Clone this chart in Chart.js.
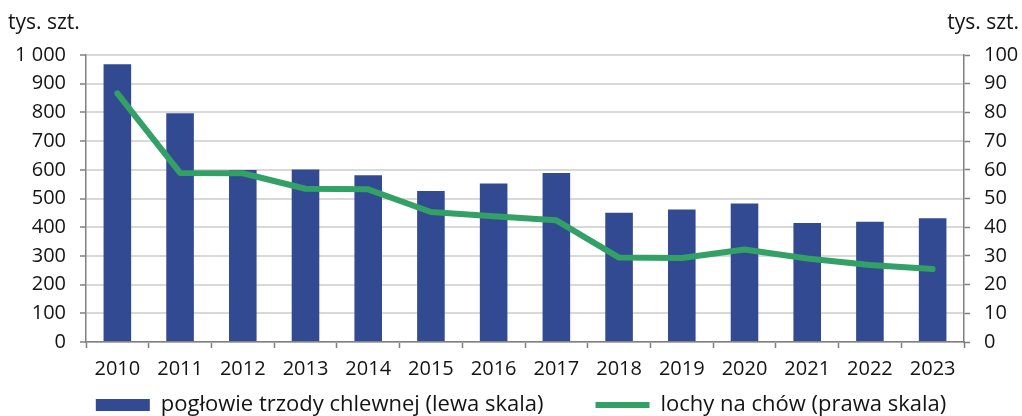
<!DOCTYPE html>
<html><head><meta charset="utf-8">
<script src="https://cdn.jsdelivr.net/npm/chart.js@4.4.1/dist/chart.umd.min.js"></script>
<style>html,body{margin:0;padding:0;background:#fff}#wrap{width:1022px;height:416px;position:relative}</style>
</head><body><div id="wrap"><canvas id="c" width="1022" height="416"></canvas></div>
<script>
const categories = ['2010','2011','2012','2013','2014','2015','2016','2017','2018','2019','2020','2021','2022','2023'];
const pigHerd = [968, 797, 599, 601, 581, 526, 552, 589, 450, 462, 483, 415, 419, 431];
const sows = [86.6, 58.9, 58.8, 53.4, 53.2, 45.3, 43.8, 42.4, 29.4, 29.3, 32.2, 29.1, 26.8, 25.4];
const leftTickLabels = ['0','100','200','300','400','500','600','700','800','900','1 000'];
const rightTickLabels = ['0','10','20','30','40','50','60','70','80','90','100'];
const seriesNames = ['pogłowie trzody chlewnej (lewa skala)', 'lochy na chów (prawa skala)'];
const unitLeft = 'tys. szt.';
const unitRight = 'tys. szt.';

const FONT = '"Open Sans", "Noto Sans", sans-serif';
const AXIS_GRAY = '#808080';
const TEXT = '#141414';

const unitPlugin = {
  id: 'units',
  afterDraw(chart) {
    const ctx = chart.ctx;
    ctx.save();
    ctx.font = '21px ' + FONT;
    ctx.fillStyle = TEXT;
    ctx.textBaseline = 'alphabetic';
    ctx.textAlign = 'left';
    ctx.fillText(unitLeft, 8, 29);
    ctx.textAlign = 'right';
    ctx.fillText(unitRight, 1019, 29);
    ctx.restore();
  }
};

new Chart(document.getElementById('c'), {
  type: 'bar',
  data: {
    labels: categories,
    datasets: [
      {
        type: 'bar',
        label: seriesNames[0],
        data: pigHerd,
        backgroundColor: '#324A92',
        borderWidth: 0,
        yAxisID: 'y',
        order: 1,
        categoryPercentage: 1.0,
        barPercentage: 0.44,
        pointStyle: 'rect'
      },
      {
        type: 'line',
        label: seriesNames[1],
        data: sows,
        borderColor: '#33A066',
        backgroundColor: '#33A066',
        borderWidth: 6,
        borderCapStyle: 'round',
        borderJoinStyle: 'round',
        pointRadius: 0,
        tension: 0,
        yAxisID: 'y1',
        order: 0,
        pointStyle: 'line'
      }
    ]
  },
  options: {
    responsive: false,
    animation: false,
    layout: { padding: { left: 8, right: -12, top: 55, bottom: -10 } },
    plugins: {
      tooltip: { enabled: false },
      legend: {
        position: 'bottom',
        labels: {
          font: { family: FONT, size: 22 },
          color: TEXT,
          usePointStyle: true,
          pointStyleWidth: 54,
          boxWidth: 54,
          boxHeight: 12,
          padding: 8,
          sort: (a, b) => a.datasetIndex - b.datasetIndex,
          generateLabels(chart) {
            const items = Chart.defaults.plugins.legend.labels.generateLabels(chart);
            items.forEach(it => {
              if (it.datasetIndex === 0) { it.text = it.text + '\u2003\u2003'; it.lineWidth = 0; }
              else { it.lineWidth = 6; it.strokeStyle = '#33A066'; }
            });
            return items;
          }
        }
      }
    },
    scales: {
      x: {
        grid: { drawOnChartArea: false, tickLength: 6, tickColor: AXIS_GRAY, tickWidth: 1.5, offset: true },
        border: { color: AXIS_GRAY, width: 1.5 },
        ticks: { font: { family: FONT, size: 20 }, color: TEXT, padding: 9, maxRotation: 0 },
        afterFit(scale) { scale.height = 44; }
      },
      y: {
        position: 'left',
        min: 0, max: 1000,
        ticks: { stepSize: 100, font: { family: FONT, size: 20 }, color: TEXT, padding: 14,
                 callback: (v, i) => leftTickLabels[i] },
        grid: { color: '#d9d9d9', lineWidth: 2, tickLength: 6, tickColor: AXIS_GRAY, tickWidth: 1.5 },
        border: { color: AXIS_GRAY, width: 1.5 },
        afterFit(scale) { scale.width = 78; }
      },
      y1: {
        position: 'right',
        min: 0, max: 100,
        ticks: { stepSize: 10, font: { family: FONT, size: 20 }, color: TEXT, padding: 14,
                 callback: (v, i) => rightTickLabels[i] },
        grid: { drawOnChartArea: false, tickLength: 6, tickColor: AXIS_GRAY, tickWidth: 1.5 },
        border: { color: AXIS_GRAY, width: 1.5 },
        afterFit(scale) { scale.width = 70; }
      }
    }
  },
  plugins: [unitPlugin]
});
</script>
</body></html>
